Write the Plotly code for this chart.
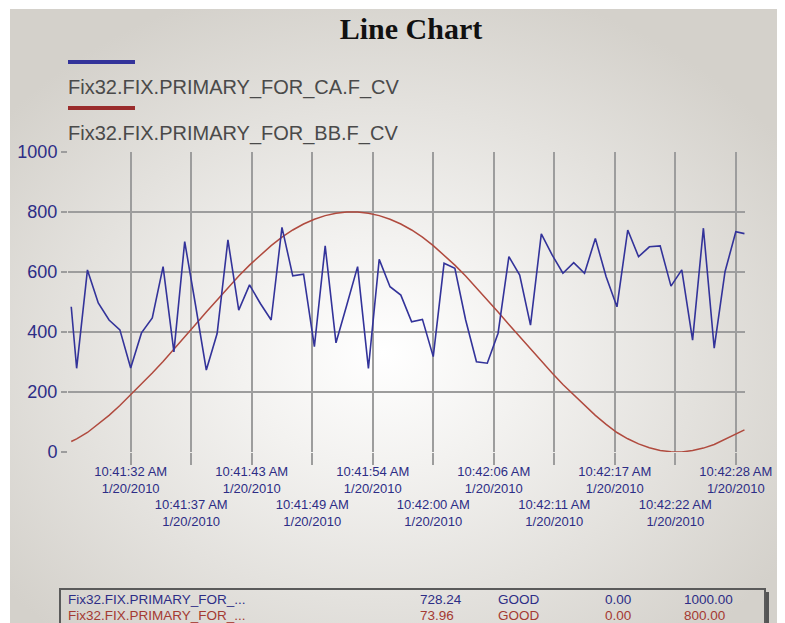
import base64
import pandas as pd
import plotly.graph_objects as go

# ---- data -----------------------------------------------------------------
start = pd.Timestamp("2010-01-20 10:41:00")

# sample times, seconds after 10:41:00
sample_sec = [26.5, 27, 28, 29, 30, 31, 32, 33, 34, 35, 36, 37, 38, 39, 40,
              41, 42, 43, 44, 45, 46, 47, 48, 49, 50, 51, 52, 53, 54, 55,
              56, 57, 58, 59, 60, 61, 62, 63, 64, 65, 66, 67, 68, 69, 70,
              71, 72, 73, 74, 75, 76, 77, 78, 79, 80, 81, 82, 83, 84, 85,
              86, 87, 88, 88.8]

ca_values = [484, 279, 607, 497, 440, 407, 280, 397, 447, 618, 334, 701, 490,
             273, 395, 707, 473, 557, 495, 440, 749, 587, 593, 351, 687, 364,
             490, 618, 279, 642, 551, 523, 434, 442, 318, 629, 612, 440, 301,
             296, 396, 651, 590, 423, 727, 657, 596, 631, 596, 712, 584, 484,
             740, 651, 684, 687, 553, 607, 373, 746, 346, 601, 734, 728]

bb_values = [35, 44, 65, 92, 122, 155, 190, 225, 263, 302, 342, 384, 425, 467,
             508, 548, 587, 623, 657, 688, 716, 740, 760, 776, 788, 796, 800,
             800, 796, 788, 776, 760, 740, 716, 688, 657, 623, 587, 548, 508,
             467, 425, 384, 342, 302, 263, 225, 190, 155, 122, 92, 65, 44, 27,
             14, 5, 1, 0, 5, 13, 25, 42, 58, 74]

series_names = ["Fix32.FIX.PRIMARY_FOR_CA.F_CV", "Fix32.FIX.PRIMARY_FOR_BB.F_CV"]

tick_sec = [32, 37.6, 43.2, 48.8, 54.4, 60, 65.6, 71.2, 76.8, 82.4, 88]
tick_time = ["10:41:32 AM", "10:41:37 AM", "10:41:43 AM", "10:41:49 AM",
             "10:41:54 AM", "10:42:00 AM", "10:42:06 AM", "10:42:11 AM",
             "10:42:17 AM", "10:42:22 AM", "10:42:28 AM"]
tick_date = "1/20/2010"
x_window = [26.2, 88.85]

y_ticks = [0, 200, 400, 600, 800, 1000]
y_grid = [200, 400, 600, 800]

table_names = ["Fix32.FIX.PRIMARY_FOR_...", "Fix32.FIX.PRIMARY_FOR_..."]
table_current = ["728.24", "73.96"]
table_status = ["GOOD", "GOOD"]
table_low = ["0.00", "0.00"]
table_high = ["1000.00", "800.00"]

# ---- styling ----------------------------------------------------------------
# the page adds an 8px body margin, so the figure is 8px smaller than the window
PAGE = 8
W, H = 785 - PAGE, 623 - PAGE
L, R, T, B = 68 - PAGE, W - (745 - PAGE), 152 - PAGE, H - (452 - PAGE)
BLUE = "#33339a"
RED = "#b04a3e"
NAVY = "#2d2d86"
GRID = "#9d9d9d"
SANS = "Liberation Sans, Arial, sans-serif"


def px_x(x):
    # page pixel -> paper fraction
    return (x - PAGE - L) / (W - L - R)


def px_y(y):
    return (H - B - (y - PAGE)) / (H - T - B)


def to_time(secs):
    return [start + pd.to_timedelta(s, unit="s") for s in secs]


times = to_time(sample_sec)

fig = go.Figure()
fig.add_trace(go.Scatter(x=times, y=bb_values, mode="lines", name=series_names[1],
                         line=dict(color=RED, width=1.5), showlegend=False))
fig.add_trace(go.Scatter(x=times, y=ca_values, mode="lines", name=series_names[0],
                         line=dict(color=BLUE, width=1.6), showlegend=False))

# background panel: soft radial highlight like the source screenshot
svg = ('<svg xmlns="http://www.w3.org/2000/svg" width="775" height="614" '
       'viewBox="0 0 775 614" preserveAspectRatio="none"><defs>'
       '<radialGradient id="g" cx="0.48" cy="0.56" r="0.62">'
       '<stop offset="0" stop-color="#ffffff"/>'
       '<stop offset="0.3" stop-color="#f3f2f0"/>'
       '<stop offset="1" stop-color="#d4d1cb"/></radialGradient></defs>'
       '<rect width="775" height="614" fill="url(#g)"/></svg>')
src = "data:image/svg+xml;base64," + base64.b64encode(svg.encode()).decode()
fig.add_layout_image(dict(source=src, xref="paper", yref="paper",
                          x=px_x(10), y=px_y(9), sizex=px_x(785) - px_x(10),
                          sizey=px_y(9) - px_y(623), xanchor="left", yanchor="top",
                          sizing="stretch", layer="below"))

# legend: swatch above each name
for i, (name, col) in enumerate(zip(series_names, [BLUE, "#9a2c2c"])):
    sy = 62 + i * 46
    fig.add_shape(type="line", xref="paper", yref="paper",
                  x0=px_x(68), x1=px_x(135), y0=px_y(sy), y1=px_y(sy),
                  line=dict(color=col, width=4))
    fig.add_annotation(text=name, xref="paper", yref="paper", x=px_x(66),
                       y=px_y(sy + 26), xanchor="left", yanchor="middle",
                       showarrow=False, font=dict(family=SANS, size=20, color="#4a4a4a"))

# status table at the bottom
fig.add_shape(type="rect", xref="paper", yref="paper",
              x0=px_x(60), x1=px_x(765), y0=px_y(589), y1=px_y(660),
              line=dict(color="#5a5a5a", width=2), fillcolor="rgba(0,0,0,0)")
fig.add_shape(type="line", xref="paper", yref="paper",
              x0=px_x(767.5), x1=px_x(767.5), y0=px_y(592), y1=px_y(660),
              line=dict(color="#555555", width=3))
col_x = [66, 418, 496, 603, 682]
for r, col in enumerate([NAVY, "#a43a32"]):
    row = [table_names[r], table_current[r], table_status[r], table_low[r], table_high[r]]
    for cx, txt in zip(col_x, row):
        fig.add_annotation(text=txt, xref="paper", yref="paper", x=px_x(cx),
                           y=px_y(599 + r * 16), xanchor="left", yanchor="middle",
                           showarrow=False, font=dict(family=SANS, size=13.5, color=col))

ticktext = []
for i, t in enumerate(tick_time):
    lab = f"{t}<br>{tick_date}"
    ticktext.append(lab if i % 2 == 0 else "<br><br>" + lab)

fig.update_layout(
    width=W, height=H,
    margin=dict(l=L, r=R, t=T, b=B),
    paper_bgcolor="white", plot_bgcolor="rgba(0,0,0,0)",
    title=dict(text="<b>Line Chart</b>", x=(411 - PAGE) / W, xanchor="center",
               y=1 - (28 - PAGE) / H, yanchor="middle",
               font=dict(family="Liberation Serif, Times New Roman, serif",
                         size=30, color="#111111")),
    xaxis=dict(type="date", range=to_time(x_window), tickmode="array",
               tickvals=to_time(tick_sec), ticktext=ticktext, tickangle=0,
               showgrid=True, gridcolor=GRID, gridwidth=2,
               ticks="outside", ticklen=12, tickwidth=2, tickcolor=GRID,
               ticklabelstandoff=-5,
               showline=False, zeroline=False, automargin=False,
               tickfont=dict(family=SANS, size=13, color=NAVY)),
    yaxis=dict(range=[0, 1000], tickmode="array", tickvals=y_ticks,
               showgrid=False, zeroline=False, showline=False,
               ticks="outside", ticklen=6, tickwidth=2, tickcolor=GRID,
               automargin=False,
               minor=dict(tickmode="array", tickvals=y_grid, showgrid=True,
                          gridcolor=GRID, gridwidth=2, ticks=""),
               tickfont=dict(family=SANS, size=18, color=NAVY)),
)

fig.write_html("out.html")
